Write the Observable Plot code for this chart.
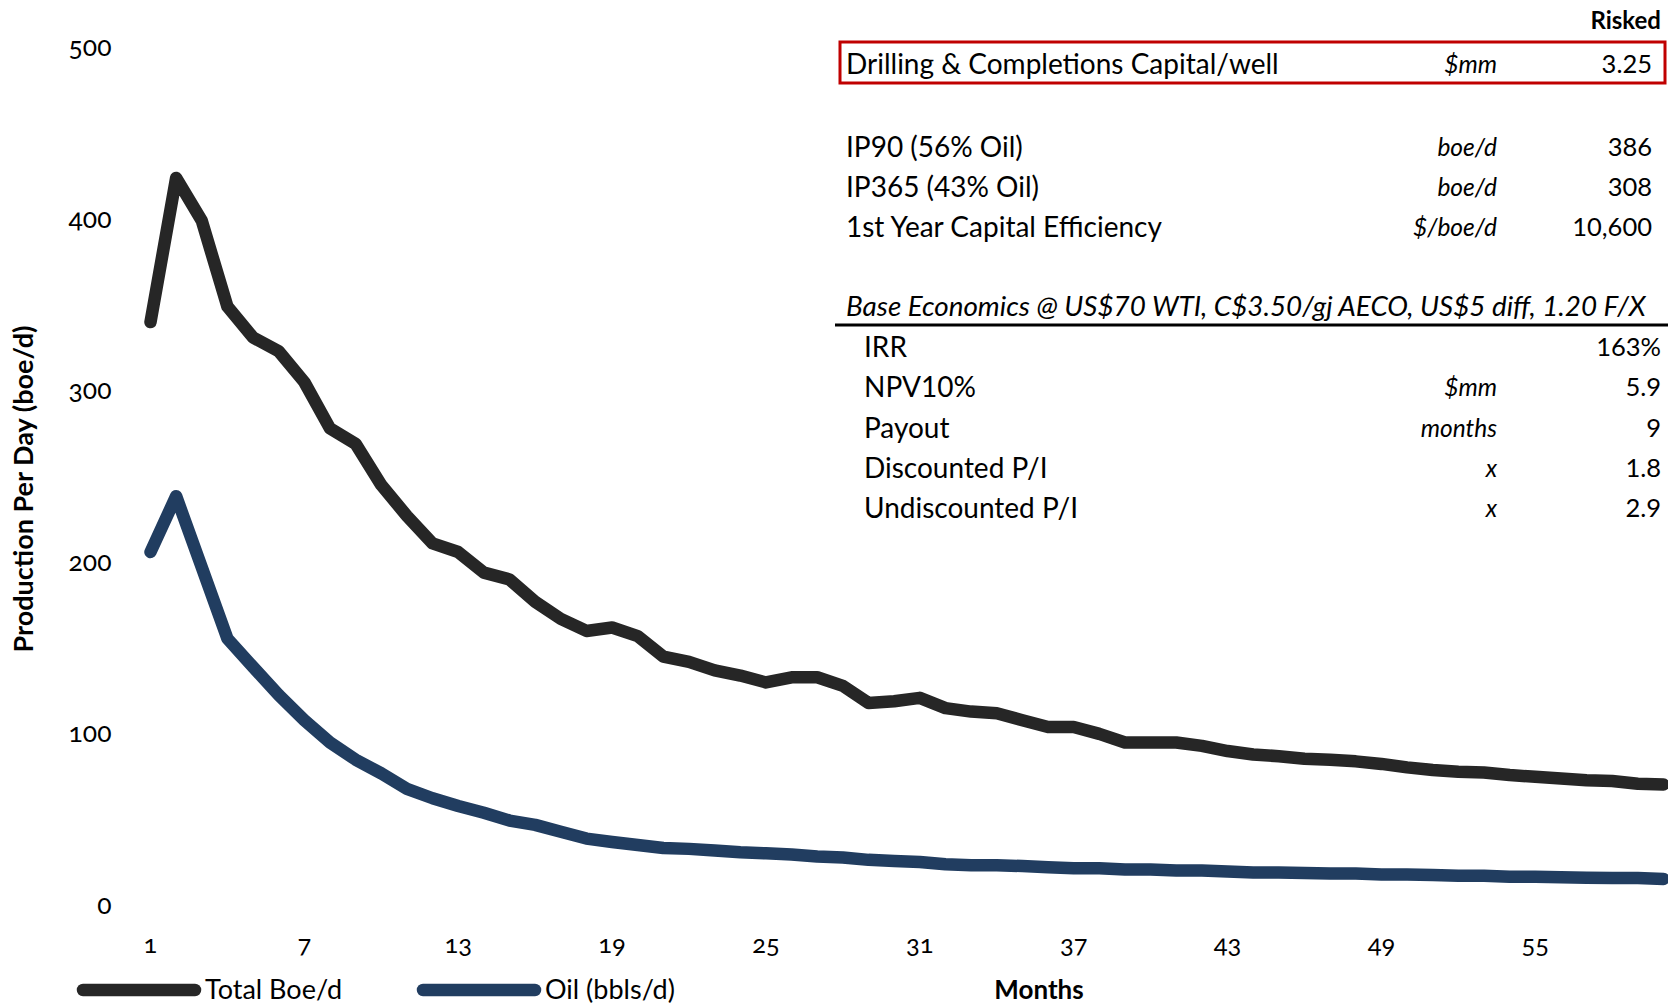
<!DOCTYPE html>
<html>
<head>
<meta charset="utf-8">
<script src="https://cdn.jsdelivr.net/npm/d3@7"></script>
<script src="https://cdn.jsdelivr.net/npm/@observablehq/plot@0.6"></script>
<style>
  html, body { margin: 0; padding: 0; background: #fff; }
  #chart svg { display: block; }
  #chart svg g[aria-label="y-axis tick label"] text,
  #chart svg g[aria-label="x-axis tick label"] text { font-variant-numeric: oldstyle-nums; }
</style>
</head>
<body>
<div id="chart"></div>
<script>
// ---- Data ----
const months = d3.range(1, 61);
const totalBoe = [340, 424, 399, 349, 331, 323, 305, 278, 269, 245,
                  227, 211, 206, 194, 190, 177, 167, 160, 162, 157,
                  145, 142, 137, 134, 130, 133, 133, 128, 118, 119,
                  121, 115, 113, 112, 108, 104, 104, 100, 95, 95,
                  95, 93, 90, 88, 87, 85.5, 85, 84, 82.5, 80.5,
                  79, 78, 77.5, 76, 75, 74, 73, 72.5, 71, 70.5];
const oilBbls = [206, 238.5, 197, 155.5, 139, 122.7, 108, 95, 85, 77,
                 68, 62.5, 58, 54, 49.5, 47, 43, 39, 37, 35.3,
                 33.5, 33, 32, 31, 30.4, 29.7, 28.5, 28, 26.6, 26,
                 25.4, 24, 23.5, 23.5, 23, 22.3, 21.7, 21.7, 21, 21,
                 20.4, 20.4, 19.8, 19.2, 19.2, 19, 18.6, 18.6, 18, 18,
                 17.8, 17.3, 17.3, 16.7, 16.7, 16.5, 16.1, 16, 16, 15.5];
const seriesNames = ["Total Boe/d", "Oil (bbls/d)"];
const seriesColors = ["#262626", "#213d60"];
const xTicks = [1, 7, 13, 19, 25, 31, 37, 43, 49, 55];
const yTicks = [0, 100, 200, 300, 400, 500];

const tableLabels = ["Drilling & Completions Capital/well", "IP90 (56% Oil)", "IP365 (43% Oil)", "1st Year Capital Efficiency"];
const tableUnits = ["$mm", "boe/d", "boe/d", "$/boe/d"];
const tableValues = ["3.25", "386", "308", "10,600"];
const econHeader = "Base Economics @ US$70 WTI, C$3.50/gj AECO, US$5 diff, 1.20 F/X";
const econLabels = ["IRR", "NPV10%", "Payout", "Discounted P/I", "Undiscounted P/I"];
const econUnits = ["", "$mm", "months", "x", "x"];
const econValues = ["163%", "5.9", "9", "1.8", "2.9"];

// ---- Build table for Plot ----
const rows = [];
months.forEach((m, i) => {
  rows.push({month: m, value: totalBoe[i], series: seriesNames[0]});
});
months.forEach((m, i) => {
  rows.push({month: m, value: oilBbls[i], series: seriesNames[1]});
});

const W = 1668, H = 1005;
const FONT = "Lato, 'Open Sans', sans-serif";

const chart = Plot.plot({
  width: W,
  height: H,
  marginLeft: 150,
  marginRight: 5,
  marginTop: 47,
  marginBottom: 100,
  style: {fontFamily: FONT, fontSize: "24px", color: "#000", background: "#fff"},
  x: {domain: [1, 60]},
  y: {domain: [0, 500]},
  color: {domain: seriesNames, range: seriesColors},
  marks: [
    Plot.axisY({ticks: yTicks, tickSize: 0, tickPadding: 39, label: null, fontSize: 26.5}),
    Plot.axisX({ticks: xTicks, tickSize: 0, tickPadding: 29, label: null, fontSize: 25.5}),
    Plot.line(rows, {x: "month", y: "value", z: "series", stroke: "series",
      strokeWidth: 12.5, strokeLinecap: "round", strokeLinejoin: "round"})
  ]
});

document.getElementById("chart").appendChild(chart);

// ---- Annotations (axis titles, legend, table) ----
const svg = d3.select(chart);
const g = svg.append("g").attr("font-family", FONT).attr("fill", "#000")
  .attr("text-anchor", "start");

// Y axis title
g.append("text")
  .attr("transform", "translate(24,489) rotate(-90)")
  .attr("text-anchor", "middle").attr("dy", "0.35em")
  .attr("font-weight", "bold").attr("font-size", 27)
  .text("Production Per Day (boe/d)");

// X axis title
g.append("text")
  .attr("x", 1039).attr("y", 990)
  .attr("text-anchor", "middle").attr("dy", "0.35em")
  .attr("font-weight", "bold").attr("font-size", 26)
  .text("Months");

// Legend
const legendX = [83, 423];
seriesNames.forEach((name, i) => {
  g.append("line")
    .attr("x1", legendX[i]).attr("x2", legendX[i] + 112)
    .attr("y1", 990).attr("y2", 990)
    .attr("stroke", seriesColors[i]).attr("stroke-width", 12.5)
    .attr("stroke-linecap", "round");
  g.append("text")
    .attr("x", legendX[i] + 122).attr("y", 990)
    .attr("text-anchor", "start")
    .attr("dy", "0.35em").attr("font-size", 27)
    .text(name);
});

// Table header
g.append("text")
  .attr("x", 1661).attr("y", 21).attr("dy", "0.35em")
  .attr("text-anchor", "end").attr("font-weight", "bold").attr("font-size", 24)
  .text("Risked");

// Red box around first row
g.append("rect")
  .attr("x", 840).attr("y", 42).attr("width", 825).attr("height", 41)
  .attr("fill", "none").attr("stroke", "#c00000").attr("stroke-width", 3);

const topRowsY = [64, 147, 187, 227];
tableLabels.forEach((lab, i) => {
  const y = topRowsY[i];
  g.append("text").attr("x", 846).attr("y", y).attr("dy", "0.35em")
    .attr("text-anchor", "start").attr("font-size", 28).text(lab);
  g.append("text").attr("x", 1497).attr("y", y).attr("dy", "0.35em")
    .attr("text-anchor", "end").attr("font-style", "italic").attr("font-size", 24.5)
    .text(tableUnits[i]);
  g.append("text").attr("x", 1652).attr("y", y).attr("dy", "0.35em")
    .attr("text-anchor", "end").attr("font-size", 25.5).text(tableValues[i]);
});

// Economics header
g.append("text").attr("x", 846).attr("y", 306).attr("dy", "0.35em")
  .attr("text-anchor", "start")
  .attr("font-style", "italic").attr("font-size", 27.8).text(econHeader);
g.append("line").attr("x1", 835).attr("x2", 1668).attr("y1", 325).attr("y2", 325)
  .attr("stroke", "#000").attr("stroke-width", 3);

const econY = [347, 387, 428, 468, 508];
econLabels.forEach((lab, i) => {
  const y = econY[i];
  g.append("text").attr("x", 864).attr("y", y).attr("dy", "0.35em")
    .attr("text-anchor", "start").attr("font-size", 28).text(lab);
  if (econUnits[i]) {
    g.append("text").attr("x", 1497).attr("y", y).attr("dy", "0.35em")
      .attr("text-anchor", "end").attr("font-style", "italic").attr("font-size", 24.5)
      .text(econUnits[i]);
  }
  g.append("text").attr("x", 1661).attr("y", y).attr("dy", "0.35em")
    .attr("text-anchor", "end").attr("font-size", 25.5).text(econValues[i]);
});
</script>
</body>
</html>
